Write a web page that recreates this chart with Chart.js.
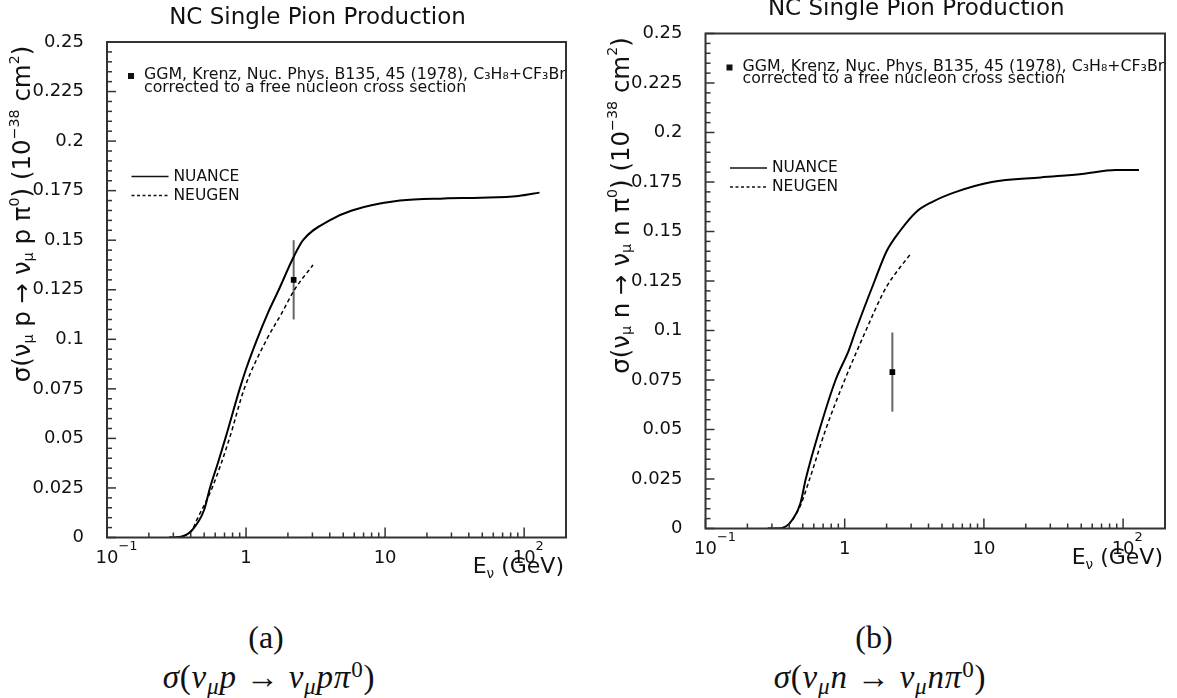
<!DOCTYPE html>
<html lang="en">
<head>
    <meta charset="UTF-8">
    <title>NC Single Pion Production</title>
    <script src="https://cdn.jsdelivr.net/npm/chart.js"></script>
    <style>
        html, body {
            margin: 0;
            background: #fff;
        }
        #page {
            position: relative;
            width: 1177px;
            height: 698px;
            overflow: hidden;
        }
        .panel {
            position: absolute;
            top: 0;
            height: 600px;
        }
        .cap {
            position: absolute;
            transform: translate(-50%, -50%);
            font-family: "Liberation Serif", "DejaVu Serif", serif;
            font-size: 32px;
            color: #111;
            white-space: nowrap;
            line-height: 1;
        }
        .cap.f {
            font-size: 33px;
            letter-spacing: 0.8px;
        }
        .cap sub { font-size: 0.7em; vertical-align: -0.25em; }
        .cap sup { font-size: 0.7em; vertical-align: 0.45em; }
    </style>
</head>
<body>
<div id="page">
    <div class="panel" style="left:0;width:590px"><canvas id="chartP"></canvas></div>
    <div class="panel" style="left:590px;width:587px"><canvas id="chartN"></canvas></div>
    <div class="cap" style="left:266px;top:637px">(a)</div>
    <div class="cap f" style="left:269px;top:678px"><i>σ</i>(<i>ν</i><sub><i>μ</i></sub><i>p</i> → <i>ν</i><sub><i>μ</i></sub><i>pπ</i><sup>0</sup>)</div>
    <div class="cap" style="left:874px;top:637px">(b)</div>
    <div class="cap f" style="left:880px;top:678px"><i>σ</i>(<i>ν</i><sub><i>μ</i></sub><i>n</i> → <i>ν</i><sub><i>μ</i></sub><i>nπ</i><sup>0</sup>)</div>
</div>

<script>
    // energies in GeV, cross sections in 10^-38 cm^2
    const nuanceP_E  = [0.28, 0.34, 0.41, 0.5, 0.55, 0.63, 0.71, 0.9, 1.0, 1.2, 1.43, 1.72, 2.18, 2.57, 3.99, 5.77, 12.8, 26.7, 49, 91, 129]
    const nuanceP_xs = [0, 0.0004, 0.0038, 0.014, 0.025, 0.038, 0.05, 0.075, 0.085, 0.1, 0.113, 0.125, 0.141, 0.15, 0.16, 0.165, 0.17, 0.1711, 0.1714, 0.1723, 0.174]

    const neugenP_E  = [0.28, 0.34, 0.41, 0.44, 0.57, 0.76, 0.97, 1.41, 1.8, 2.23, 3.03]
    const neugenP_xs = [0, 0.0004, 0.0038, 0.0085, 0.025, 0.05, 0.075, 0.1, 0.113, 0.125, 0.1375]

    const nuanceN_E  = [0.28, 0.33, 0.4, 0.48, 0.525, 0.66, 0.86, 1.07, 1.2, 1.64, 2.0, 2.48, 3.28, 4.27, 6.3, 11.4, 25.5, 50.6, 88.5, 130]
    const nuanceN_xs = [0, 0, 0.0025, 0.0126, 0.025, 0.05, 0.075, 0.09, 0.1, 0.125, 0.14, 0.15, 0.16, 0.165, 0.17, 0.175, 0.1773, 0.179, 0.181, 0.181]

    const neugenN_E  = [0.28, 0.33, 0.4, 0.48, 0.56, 0.73, 1.0, 1.42, 1.88, 2.12, 2.99]
    const neugenN_xs = [0, 0, 0.0025, 0.0115, 0.025, 0.05, 0.075, 0.1, 0.1187, 0.125, 0.1389]

    // GGM (Krenz 1978) points
    const ggmE     = [2.2]
    const ggmP_xs  = [0.13]
    const ggmP_err = [0.02]
    const ggmN_xs  = [0.079]
    const ggmN_err = [0.02]

    const xTickValues = [0.1, 1, 10, 100]
    const xTickLabels = [[['10', 0], ['−1', 2]], [['1', 0]], [['10', 0]], [['10', 0], ['2', 2]]]

    const titleText = 'NC Single Pion Production'
    const dataLabel = ['GGM, Krenz, Nuc. Phys. B135, 45 (1978), C₃H₈+CF₃Br', 'corrected to a free nucleon cross section']

    const FONT = '"DejaVu Sans", "Liberation Sans", sans-serif'

    // draws text with sub (1) / superscript (2) parts
    // anchor: 'left' | 'center' | 'right' | 'base' (first part centred on x)
    function richText(ctx, parts, x, y, size, anchor, small = 0.62, rise = 0.4, drop = 0.3) {
        const sz = p => (p[1] ? size * small : size)
        const widths = parts.map(p => {
            ctx.font = sz(p) + 'px ' + FONT
            return ctx.measureText(p[0]).width
        })
        const w = widths.reduce((s, v) => s + v, 0)
        let cx = x
        if (anchor == 'center') cx = x - w / 2
        else if (anchor == 'right') cx = x - w
        else if (anchor == 'base') cx = x - widths[0] / 2
        ctx.textAlign = 'left'
        ctx.textBaseline = 'middle'
        parts.forEach((p, i) => {
            ctx.font = sz(p) + 'px ' + FONT
            const dy = p[1] == 1 ? size * drop : (p[1] == 2 ? -size * rise : 0)
            ctx.fillText(p[0], cx, y + dy)
            cx += widths[i]
        })
    }

    function line(ctx, x1, y1, x2, y2) {
        ctx.beginPath()
        ctx.moveTo(x1, y1)
        ctx.lineTo(x2, y2)
        ctx.stroke()
    }

    const panelPlugin = {
        id: 'panel',
        beforeDatasetsDraw(chart) {
            // error bars of the data point
            const ctx = chart.ctx
            const xs = chart.scales.x, ys = chart.scales.y
            const ds = chart.data.datasets[2]
            ctx.save()
            ctx.strokeStyle = '#666'
            ctx.lineWidth = 2
            ds.data.forEach((pt, i) => {
                const x = xs.getPixelForValue(pt.x)
                line(ctx, x, ys.getPixelForValue(pt.y - ds.errs[i]), x, ys.getPixelForValue(pt.y + ds.errs[i]))
            })
            ctx.restore()
        },
        afterDraw(chart, args, opts) {
            const ctx = chart.ctx
            const a = chart.chartArea
            const xs = chart.scales.x, ys = chart.scales.y
            ctx.save()

            // frame
            ctx.strokeStyle = '#333'
            ctx.lineWidth = 2
            ctx.strokeRect(a.left, a.top, a.right - a.left, a.bottom - a.top)

            // inward tick marks
            ctx.lineWidth = 1.5
            for (let k = 0; k <= 50; k++) {
                const y = ys.getPixelForValue(k * 0.005)
                line(ctx, a.left, y, a.left + (k % 5 == 0 ? 9 : 5), y)
            }
            for (let e = -1; e <= 2; e++) {
                for (let m = 1; m <= 9; m++) {
                    const v = m * Math.pow(10, e)
                    if (v > xs.max) break
                    const x = xs.getPixelForValue(v)
                    line(ctx, x, a.bottom, x, a.bottom - (m == 1 ? 10 : 5))
                }
            }

            ctx.fillStyle = '#111'
            ctx.strokeStyle = '#111'

            // x tick labels (with superscript exponents)
            xTickValues.forEach((v, i) => {
                richText(ctx, xTickLabels[i], xs.getPixelForValue(v), a.bottom + 20.5, 18, 'base', 0.72, 0.62)
            })

            // title
            ctx.font = '23px ' + FONT
            ctx.textAlign = 'center'
            ctx.textBaseline = 'middle'
            ctx.fillText(titleText, (a.left + a.right) / 2 - 19, a.top - 24)

            // data legend
            ctx.fillRect(a.left + 21, a.top + 31, 6, 6)
            ctx.font = '15.8px ' + FONT
            ctx.textAlign = 'left'
            ctx.fillText(dataLabel[0], a.left + 37, a.top + 33)
            ctx.fillText(dataLabel[1], a.left + 37, a.top + 45.5)

            // model legend
            const ds = chart.data.datasets
            ctx.lineWidth = 1.5
            line(ctx, a.left + 24.5, a.top + 134.5, a.left + 61.5, a.top + 134.5)
            ctx.setLineDash([3, 2.5])
            line(ctx, a.left + 24.5, a.top + 153.5, a.left + 61.5, a.top + 153.5)
            ctx.setLineDash([])
            ctx.font = '15.5px ' + FONT
            ctx.fillText(ds[0].label, a.left + 66.5, a.top + 134.5)
            ctx.fillText(ds[1].label, a.left + 66.5, a.top + 153.5)

            // axis titles
            richText(ctx, [['E', 0], ['ν', 1], [' (GeV)', 0]], a.right - 2, a.bottom + 30, 22, 'right')
            ctx.save()
            ctx.translate(a.left - 83, a.top + 172)
            ctx.rotate(-Math.PI / 2)
            richText(ctx, opts.yTitle, 0, 0, 24.5, 'center', 0.58, 0.36, 0.2)
            ctx.restore()

            ctx.restore()
        }
    }

    function makePanel(id, p) {
        return new Chart(document.getElementById(id), {
            type: 'scatter',
            data: {
                datasets: [{
                    label: 'NUANCE',
                    data: p.nuE.map((e, i) => ({ x: e, y: p.nuXs[i] })),
                    showLine: true,
                    borderColor: '#000',
                    borderWidth: 2,
                    pointRadius: 0,
                    cubicInterpolationMode: 'monotone'
                }, {
                    label: 'NEUGEN',
                    data: p.neE.map((e, i) => ({ x: e, y: p.neXs[i] })),
                    showLine: true,
                    borderColor: '#000',
                    borderWidth: 1.5,
                    borderDash: [4, 3],
                    pointRadius: 0,
                    cubicInterpolationMode: 'monotone'
                }, {
                    label: 'GGM',
                    data: ggmE.map((e, i) => ({ x: e, y: p.ggXs[i] })),
                    errs: p.ggErr,
                    pointStyle: 'rect',
                    pointRadius: 4,
                    backgroundColor: '#000',
                    borderColor: '#000',
                    borderWidth: 0
                }]
            },
            options: {
                responsive: true,
                maintainAspectRatio: false,
                animation: false,
                layout: { padding: { top: p.top, right: p.right, left: 0, bottom: 0 } },
                plugins: {
                    legend: { display: false },
                    tooltip: { enabled: false },
                    panel: { yTitle: p.yTitle }
                },
                scales: {
                    x: {
                        type: 'logarithmic',
                        min: 0.1,
                        max: 200,
                        grid: { display: false },
                        border: { display: false },
                        afterBuildTicks: s => { s.ticks = xTickValues.map(v => ({ value: v })) },
                        afterFit: s => { s.height = p.xH },
                        ticks: { display: false }
                    },
                    y: {
                        min: 0,
                        max: 0.25,
                        grid: { display: false },
                        border: { display: false },
                        afterFit: s => { s.width = p.yW },
                        ticks: {
                            stepSize: 0.025,
                            padding: 15,
                            color: '#111',
                            font: { family: FONT, size: 18 },
                            callback: v => String(+v.toFixed(3))
                        }
                    }
                }
            },
            plugins: [panelPlugin]
        })
    }

    makePanel('chartP', {
        nuE: nuanceP_E, nuXs: nuanceP_xs, neE: neugenP_E, neXs: neugenP_xs,
        ggXs: ggmP_xs, ggErr: ggmP_err,
        top: 42, right: 24, xH: 62.5, yW: 107,
        yTitle: [['σ(ν', 0], ['μ', 1], [' p → ν', 0], ['μ', 1], [' p π', 0], ['0', 2], [') (10', 0], ['−38', 2], [' cm', 0], ['2', 2], [')', 0]]
    })

    makePanel('chartN', {
        nuE: nuanceN_E, nuXs: nuanceN_xs, neE: neugenN_E, neXs: neugenN_xs,
        ggXs: ggmN_xs, ggErr: ggmN_err,
        top: 33.5, right: 12, xH: 71.5, yW: 115.5,
        yTitle: [['σ(ν', 0], ['μ', 1], [' n → ν', 0], ['μ', 1], [' n π', 0], ['0', 2], [') (10', 0], ['−38', 2], [' cm', 0], ['2', 2], [')', 0]]
    })
</script>
</body>
</html>
